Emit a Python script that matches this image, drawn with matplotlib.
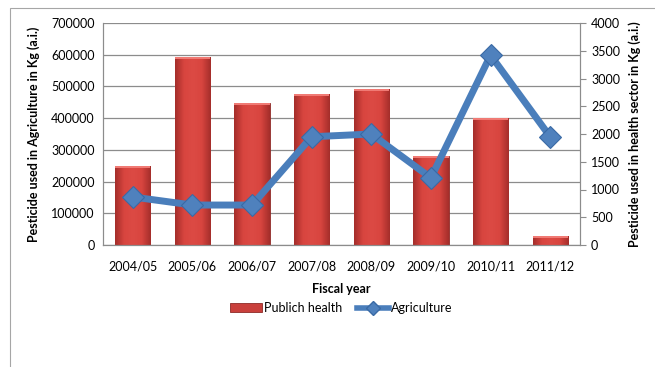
import matplotlib.pyplot as plt
from matplotlib.patches import Rectangle
from matplotlib.lines import Line2D
from matplotlib.colors import LinearSegmentedColormap
import numpy as np

plt.rcParams['font.family'] = ['Lato', 'DejaVu Sans']

years = ['2004/05', '2005/06', '2006/07', '2007/08', '2008/09', '2009/10', '2010/11', '2011/12']
public_health = [248000, 593000, 448000, 476000, 492000, 281000, 400000, 28000]
agriculture = [865, 720, 720, 1950, 2000, 1210, 3420, 1950]

bar_red = '#C9403C'
bar_edge = '#8E2A27'
line_blue = '#4A7EBB'
grid_grey = '#8C8C8C'

fig = plt.figure(figsize=(6.55, 3.67), dpi=100)
# outer chart frame
fig.patches.append(Rectangle((10 / 655, -0.1), 1.2, 1.1 - 8 / 367, transform=fig.transFigure,
                             fill=False, edgecolor='#A6A6A6', linewidth=0.8))

ax = fig.add_axes([103 / 655, 1 - 245 / 367, 477 / 655, 222 / 367])
x = np.arange(len(years))

bars = ax.bar(x, public_health, width=0.59, color=bar_red, edgecolor=bar_edge, linewidth=0.6, zorder=2)
ax.set_ylim(0, 700000)
ax.set_xlim(-0.5, len(years) - 0.5)

# shaded fill for the bars, darker at the sides
shade = LinearSegmentedColormap.from_list('shade', ['#A52E2B', '#D8453F', '#DC4A44', '#D8453F', '#A52E2B'])
grad = np.linspace(0, 1, 64).reshape(1, -1)
for b in bars:
    bx, by = b.get_x(), b.get_y()
    img = ax.imshow(grad, cmap=shade, aspect='auto', zorder=2.1,
                    extent=(bx, bx + b.get_width(), by, by + b.get_height()))
    img.set_clip_path(b)
    # light cap on the top of each bar
    cap = 6000
    ax.add_patch(Rectangle((bx, by + b.get_height() - cap), b.get_width(), cap,
                           facecolor='#F07A74', edgecolor='none', zorder=2.2))
ax.set_xlim(-0.5, len(years) - 0.5)
ax.set_ylim(0, 700000)

ax.set_yticks(np.arange(0, 700001, 100000))
ax.yaxis.grid(True, color=grid_grey, linewidth=0.9)
ax.set_axisbelow(True)
ax.set_xticks(x)
ax.set_xticklabels(years)
ax.tick_params(axis='both', labelsize=9, length=0, pad=6)
ax.tick_params(axis='x', pad=11)
for side in ['left', 'bottom', 'top', 'right']:
    ax.spines[side].set_color(grid_grey)
ax.spines['top'].set_visible(False)
ax.set_xlabel('Fiscal year', fontsize=9, fontweight='bold', labelpad=8)
ax.set_ylabel('Pesticide used in Agriculture in Kg (a.i.)', fontsize=9, fontweight='bold', labelpad=8)

ax2 = ax.twinx()
ax2.plot(x, agriculture, color=line_blue, linewidth=5, marker='D', markersize=11,
         markerfacecolor='#4F81BD', markeredgecolor='#3A6AA5', markeredgewidth=0.8,
         solid_joinstyle='miter', zorder=3)
ax2.set_ylim(0, 4000)
ax2.set_yticks(np.arange(0, 4001, 500))
ax2.tick_params(axis='y', labelsize=9, length=4, color=grid_grey, direction='out', pad=4)
for side in ['left', 'bottom', 'top', 'right']:
    ax2.spines[side].set_color(grid_grey)
ax2.spines['top'].set_visible(False)
ax2.set_ylabel('Pesticide used in health sector in Kg (a.i.)', fontsize=9, fontweight='bold', labelpad=6)

handles = [Rectangle((0, 0), 1, 1, facecolor=bar_red, edgecolor=bar_edge, linewidth=0.6),
           Line2D([], [], color=line_blue, linewidth=4, marker='D', markersize=7,
                  markerfacecolor='#4F81BD', markeredgecolor='#3A6AA5')]
fig.legend(handles, ['Publich health', 'Agriculture'], loc='center',
           bbox_to_anchor=(341 / 655, 1 - 308 / 367), ncol=2, frameon=False,
           fontsize=9, handlelength=2.6, handletextpad=0.1, columnspacing=1.2)

fig.savefig('out.png', dpi=100)
